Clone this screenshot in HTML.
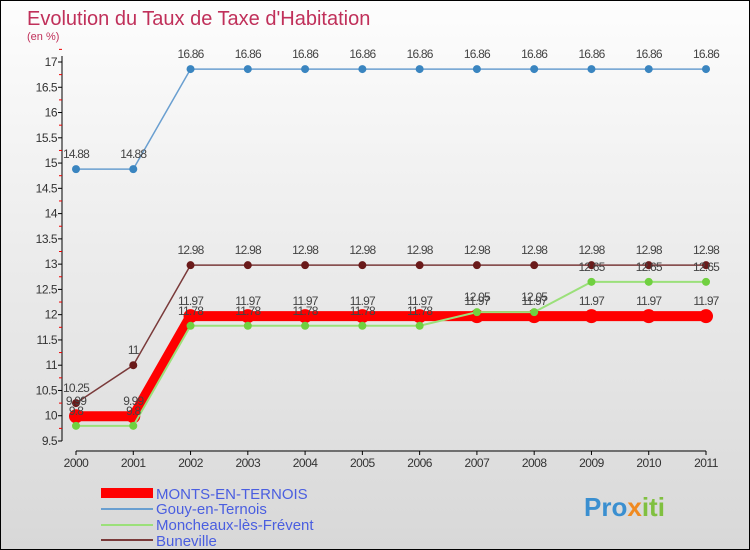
<!DOCTYPE html>
<html><head><meta charset="utf-8"><style>
body{margin:0;}
#c{width:748px;height:548px;border:1px solid #000;position:relative;background:linear-gradient(#fdfdfd,#d8d8d8);font-family:"Liberation Sans",sans-serif;overflow:hidden}
</style></head><body>
<div id="c">
<svg id="s" width="748" height="548" xmlns="http://www.w3.org/2000/svg">
<text x="26" y="24" font-size="20" fill="#c0305a">Evolution du Taux de Taxe d'Habitation</text>
<text x="26" y="39" font-size="11" fill="#c0305a">(en %)</text>
<g id="axes"></g><g id="series"></g>
<g>
<rect x="100" y="487" width="52" height="10" fill="#f00"/>
<text x="155" y="498" font-size="15" fill="#4a5ee0">MONTS-EN-TERNOIS</text>
<line x1="100" y1="508" x2="152" y2="508" stroke="#6a9fd0" stroke-width="2"/>
<text x="155" y="513" font-size="15" fill="#4a5ee0">Gouy-en-Ternois</text>
<line x1="100" y1="524" x2="152" y2="524" stroke="#9be07a" stroke-width="2"/>
<text x="155" y="529" font-size="15" fill="#4a5ee0">Moncheaux-lès-Frévent</text>
<line x1="100" y1="539" x2="152" y2="539" stroke="#7a3a3a" stroke-width="2"/>
<text x="155" y="545" font-size="15" fill="#4a5ee0">Buneville</text>
</g>
<text x="583" y="515" font-size="26" font-weight="bold" fill="#3a8fd0">Pro<tspan fill="#f08a20">x</tspan><tspan fill="#80c040">iti</tspan></text>
</svg></div>
<script>
const years=["2000","2001","2002","2003","2004","2005","2006","2007","2008","2009","2010","2011"];
const yTicks=[9.5,10,10.5,11,11.5,12,12.5,13,13.5,14,14.5,15,15.5,16,16.5,17];
const monts=[9.99,9.99,11.97,11.97,11.97,11.97,11.97,11.97,11.97,11.97,11.97,11.97];
const gouy=[14.88,14.88,16.86,16.86,16.86,16.86,16.86,16.86,16.86,16.86,16.86,16.86];
const moncheaux=[9.8,9.8,11.78,11.78,11.78,11.78,11.78,12.05,12.05,12.65,12.65,12.65];
const buneville=[10.25,11,12.98,12.98,12.98,12.98,12.98,12.98,12.98,12.98,12.98,12.98];
const NS="http://www.w3.org/2000/svg";
const X=i=>75+i*(630/11);
const Y=v=>440-(v-9.5)*(379/7.5);
function mk(t,a,p){const e=document.createElementNS(NS,t);for(const k in a)e.setAttribute(k,a[k]);p.appendChild(e);return e;}
const ax=document.getElementById('axes');
let l=mk('line',{x1:61,y1:Y(17)-6,x2:61,y2:Y(9.5),stroke:'#000'},ax);


l=mk('line',{x1:X(0),y1:450,x2:X(11),y2:450,stroke:'#000'},ax);


yTicks.forEach(v=>{
 const t=mk('line',{x1:57,y1:Y(v),x2:61,y2:Y(v),stroke:'#000'},ax);
 
 
 const m=mk('line',{x1:58,y1:Y(v+0.25),x2:61,y2:Y(v+0.25),stroke:'#e00'},ax);
 
 
 const tx=mk('text',{x:56,y:Y(v)+4,'font-size':12,'text-anchor':'end',fill:'#333','letter-spacing':'-0.5'},ax);
 tx.textContent=String(v);
 
 
});
years.forEach((y,i)=>{
 const t=mk('line',{x1:X(i),y1:450,x2:X(i),y2:454,stroke:'#000'},ax);
 
 
 const tx=mk('text',{x:X(i),y:466,'font-size':12,'text-anchor':'middle',fill:'#333','letter-spacing':'-0.5'},ax);
 tx.textContent=y;
 
 
});
const sg=document.getElementById('series');
function series(name,vals,color,w,r,dot){
 const g=mk('g',{},sg);
 
 
 const pl=mk('polyline',{points:vals.map((v,i)=>X(i)+','+Y(v)).join(' '),fill:'none',stroke:color,'stroke-width':w},g);
 
 
 vals.forEach((v,i)=>{
  const c=mk('circle',{cx:X(i),cy:Y(v),r:r,fill:dot},g);
  
  
  const t=mk('text',{x:X(i),y:Y(v)-11,'font-size':12,'text-anchor':'middle',fill:'#444','letter-spacing':'-0.8'},g);
  t.textContent=String(v);
  
  
 });
}
series('gouy',gouy,'#6a9fd0',1.5,4,'#3a85c0');
series('buneville',buneville,'#7a3a3a',1.5,4,'#6a1a1a');
series('monts',monts,'#f00',10,7,'#f00');
series('moncheaux',moncheaux,'#9be07a',2,4,'#70d040');
</script>
</body></html>
